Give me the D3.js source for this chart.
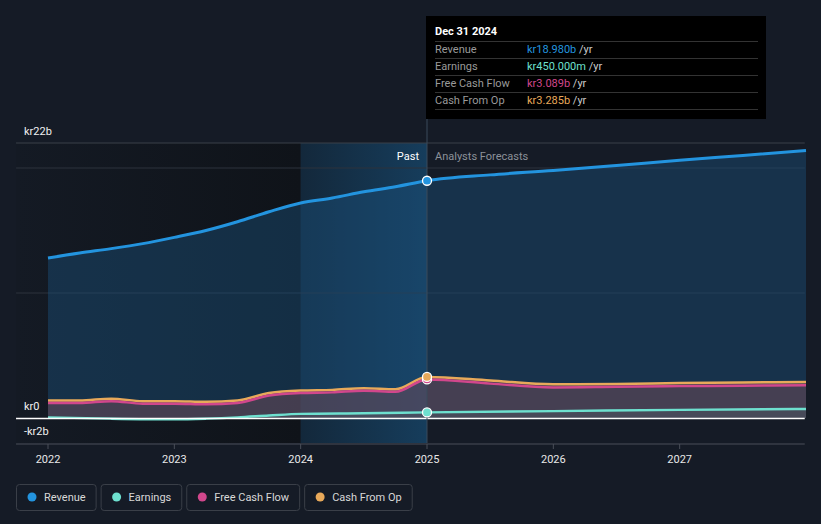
<!DOCTYPE html>
<html>
<head>
<meta charset="utf-8">
<script src="https://cdn.jsdelivr.net/npm/d3@7"></script>
<style>
  body { margin: 0; background: #151b26; }
  svg { display: block; font-family: Roboto, "Noto Sans", sans-serif; }
</style>
</head>
<body>
<div id="chart"></div>
<script>
// Series data (years as decimals, values in kr billions)
const revenueX = [2022, 2022.25, 2022.5, 2022.75, 2023, 2023.25, 2023.5, 2023.75, 2024, 2024.25, 2024.5, 2024.75, 2025, 2025.5, 2026, 2026.5, 2027, 2027.5, 2028];
const revenueY = [12.8, 13.2, 13.55, 13.95, 14.45, 15.0, 15.7, 16.5, 17.2, 17.6, 18.1, 18.5, 18.98, 19.45, 19.8, 20.2, 20.62, 21.0, 21.4];

const cashX = [2022, 2022.25, 2022.5, 2022.75, 2023, 2023.25, 2023.5, 2023.75, 2024, 2024.25, 2024.5, 2024.75, 2025, 2025.5, 2026, 2026.5, 2027, 2027.5, 2028];
const cfoY = [1.4, 1.4, 1.55, 1.35, 1.35, 1.3, 1.4, 2.0, 2.2, 2.25, 2.38, 2.3, 3.285, 3.0, 2.7, 2.72, 2.8, 2.84, 2.88];
const fcfY = [1.2, 1.2, 1.35, 1.15, 1.15, 1.1, 1.2, 1.8, 2.0, 2.05, 2.18, 2.1, 3.089, 2.75, 2.45, 2.5, 2.55, 2.58, 2.62];

const earningsX = [2022, 2022.5, 2023, 2023.25, 2023.5, 2023.75, 2024, 2024.5, 2025, 2026, 2027, 2028];
const earningsY = [0.05, -0.05, -0.1, -0.05, 0.05, 0.2, 0.33, 0.38, 0.45, 0.55, 0.65, 0.72];

const yTicks = [22, 0, -2];
const yTickLabels = ["kr22b", "kr0", "-kr2b"];
const yGrid = [22, 20, 10];
const xTicks = [2022, 2023, 2024, 2025, 2026, 2027];

const tooltipTitle = "Dec 31 2024";
const tooltipRows = ["Revenue", "Earnings", "Free Cash Flow", "Cash From Op"];
const tooltipValues = ["kr18.980b", "kr450.000m", "kr3.089b", "kr3.285b"];
const legendNames = ["Revenue", "Earnings", "Free Cash Flow", "Cash From Op"];
const colors = ["#2394df", "#6ee0cf", "#d1478c", "#e8a95a"];

const W = 821, H = 524;
const x = d3.scaleLinear().domain([2022, 2028]).range([48, 806]);
const y = d3.scaleLinear().domain([-2, 22]).range([443, 143]);
const left = x(2021.747), right = x(2027.99);
const nowX = x(2025);

const svg = d3.select("#chart").append("svg").attr("width", W).attr("height", H);
const defs = svg.append("defs");

const gPast = defs.append("linearGradient").attr("id", "pastBg");
gPast.append("stop").attr("offset", "0%").attr("stop-color", "#141a24");
gPast.append("stop").attr("offset", "100%").attr("stop-color", "#0f1319");
const gBand = defs.append("linearGradient").attr("id", "band");
gBand.append("stop").attr("offset", "0%").attr("stop-color", "#13283b");
gBand.append("stop").attr("offset", "100%").attr("stop-color", "#163d5c");

// past background
svg.append("rect").attr("x", left).attr("y", y(22)).attr("width", x(2024) - left)
  .attr("height", y(-2) - y(22)).attr("fill", "url(#pastBg)");
svg.append("rect").attr("x", x(2024)).attr("y", y(22)).attr("width", nowX - x(2024))
  .attr("height", y(-2) - y(22)).attr("fill", "url(#band)");

// gridlines
svg.selectAll(".grid").data(yGrid).enter().append("line")
  .attr("x1", left).attr("x2", right)
  .attr("y1", d => y(d)).attr("y2", d => y(d))
  .attr("stroke", (d, i) => i === 0 ? "#3b4049" : "#2c323c").attr("stroke-width", 1);

const revData = revenueX.map((d, i) => [d, revenueY[i]]);
const cfoData = cashX.map((d, i) => [d, cfoY[i]]);
const fcfData = cashX.map((d, i) => [d, fcfY[i]]);
const earnData = earningsX.map((d, i) => [d, earningsY[i]]);

const area = d3.area().x(d => x(d[0])).y0(y(0)).y1(d => y(d[1])).curve(d3.curveMonotoneX);
const line = d3.line().x(d => x(d[0])).y(d => y(d[1])).curve(d3.curveMonotoneX);

// areas
svg.append("path").datum(revData).attr("d", area).attr("fill", "#1b4f7a").attr("opacity", 0.45);
svg.append("path").datum(cfoData).attr("d", area).attr("fill", "#6b4a5a").attr("opacity", 0.55);
svg.append("path").datum(earnData).attr("d", area).attr("fill", "#4a5560").attr("opacity", 0.5);

// bottom axis
const xAxis = svg.append("g").attr("transform", `translate(0,${y(-2) + 1})`);
xAxis.append("line").attr("x1", left).attr("x2", right).attr("stroke", "#4a4f58");
xAxis.selectAll(".tick").data(xTicks).enter().append("line")
  .attr("x1", d => x(d)).attr("x2", d => x(d)).attr("y1", 0).attr("y2", 5).attr("stroke", "#4a4f58");
xAxis.selectAll(".lbl").data(xTicks).enter().append("text")
  .attr("x", d => x(d)).attr("y", 19).attr("text-anchor", "middle")
  .attr("fill", "#e8e8e8").attr("font-size", 11).text(d => d);

// lines
svg.append("path").datum(revData).attr("d", line).attr("fill", "none").attr("stroke", colors[0]).attr("stroke-width", 3);
svg.append("path").datum(earnData).attr("d", line).attr("fill", "none").attr("stroke", colors[1]).attr("stroke-width", 2.5);
svg.append("path").datum(cfoData).attr("d", line).attr("fill", "none").attr("stroke", colors[3]).attr("stroke-width", 2.5);
svg.append("path").datum(fcfData).attr("d", line).attr("fill", "none").attr("stroke", colors[2]).attr("stroke-width", 2.5);

// zero line
svg.append("line").attr("x1", left).attr("x2", right).attr("y1", y(0) + 0.5).attr("y2", y(0) + 0.5)
  .attr("stroke", "#ffffff").attr("stroke-width", 1.5);

// y labels
svg.selectAll(".ylbl").data(yTicks).enter().append("text")
  .attr("x", 24).attr("y", d => y(d) - 8)
  .attr("fill", "#f0f0f0").attr("font-size", 11)
  .text((d, i) => yTickLabels[i]);

// divider line
svg.append("line").attr("x1", nowX).attr("x2", nowX).attr("y1", 16).attr("y2", y(-2))
  .attr("stroke", "#3a4a5a").attr("stroke-width", 1);

svg.append("text").attr("x", nowX - 8).attr("y", 160).attr("text-anchor", "end")
  .attr("fill", "#ffffff").attr("font-size", 11).text("Past");
svg.append("text").attr("x", nowX + 8).attr("y", 160)
  .attr("fill", "#8c9199").attr("font-size", 11).text("Analysts Forecasts");

// dots at the current point
const dots = [[revenueY[12], colors[0]], [fcfY[12], colors[2]], [cfoY[12], colors[3]], [earningsY[8], colors[1]]];
svg.selectAll(".dot").data(dots).enter().append("circle")
  .attr("cx", nowX).attr("cy", d => y(d[0])).attr("r", 4.5)
  .attr("fill", d => d[1]).attr("stroke", "#ffffff").attr("stroke-width", 1.3);

// tooltip
const tip = svg.append("g").attr("transform", "translate(426,16)");
tip.append("rect").attr("width", 340).attr("height", 103).attr("fill", "#000000");
tip.append("text").attr("x", 9).attr("y", 19).attr("fill", "#ffffff").attr("font-size", 11)
  .attr("font-weight", "bold").text(tooltipTitle);
tip.selectAll(".sep").data(d3.range(5)).enter().append("line")
  .attr("x1", 9).attr("x2", 332).attr("y1", i => 25.5 + i * 17).attr("y2", i => 25.5 + i * 17)
  .attr("stroke", "#333333");
tip.selectAll(".rl").data(tooltipRows).enter().append("text")
  .attr("x", 9).attr("y", (d, i) => 37 + i * 17).attr("fill", "#9a9a9a").attr("font-size", 11).text(d => d);
const vals = tip.selectAll(".rv").data(tooltipValues).enter().append("text")
  .attr("x", 101).attr("y", (d, i) => 37 + i * 17).attr("font-size", 11);
vals.append("tspan").attr("fill", (d, i) => colors[i]).text(d => d);
vals.append("tspan").attr("fill", "#cccccc").text(" /yr");

// legend
const legend = svg.append("g").attr("transform", "translate(16,484)");
let lx = 0;
legendNames.forEach((name, i) => {
  const g = legend.append("g").attr("transform", `translate(${lx},0)`);
  const t = g.append("text").attr("x", 28).attr("y", 17).attr("fill", "#d8d8d8")
    .attr("font-size", 11).text(name);
  const w = t.node().getComputedTextLength() + 38;
  g.insert("rect", "text").attr("x", 0.5).attr("y", 0.5).attr("width", w).attr("height", 26)
    .attr("rx", 3).attr("fill", "none").attr("stroke", "#3a3f48");
  g.append("circle").attr("cx", 16).attr("cy", 13).attr("r", 4.5).attr("fill", colors[i]);
  lx += w + 5;
});
</script>
</body>
</html>
